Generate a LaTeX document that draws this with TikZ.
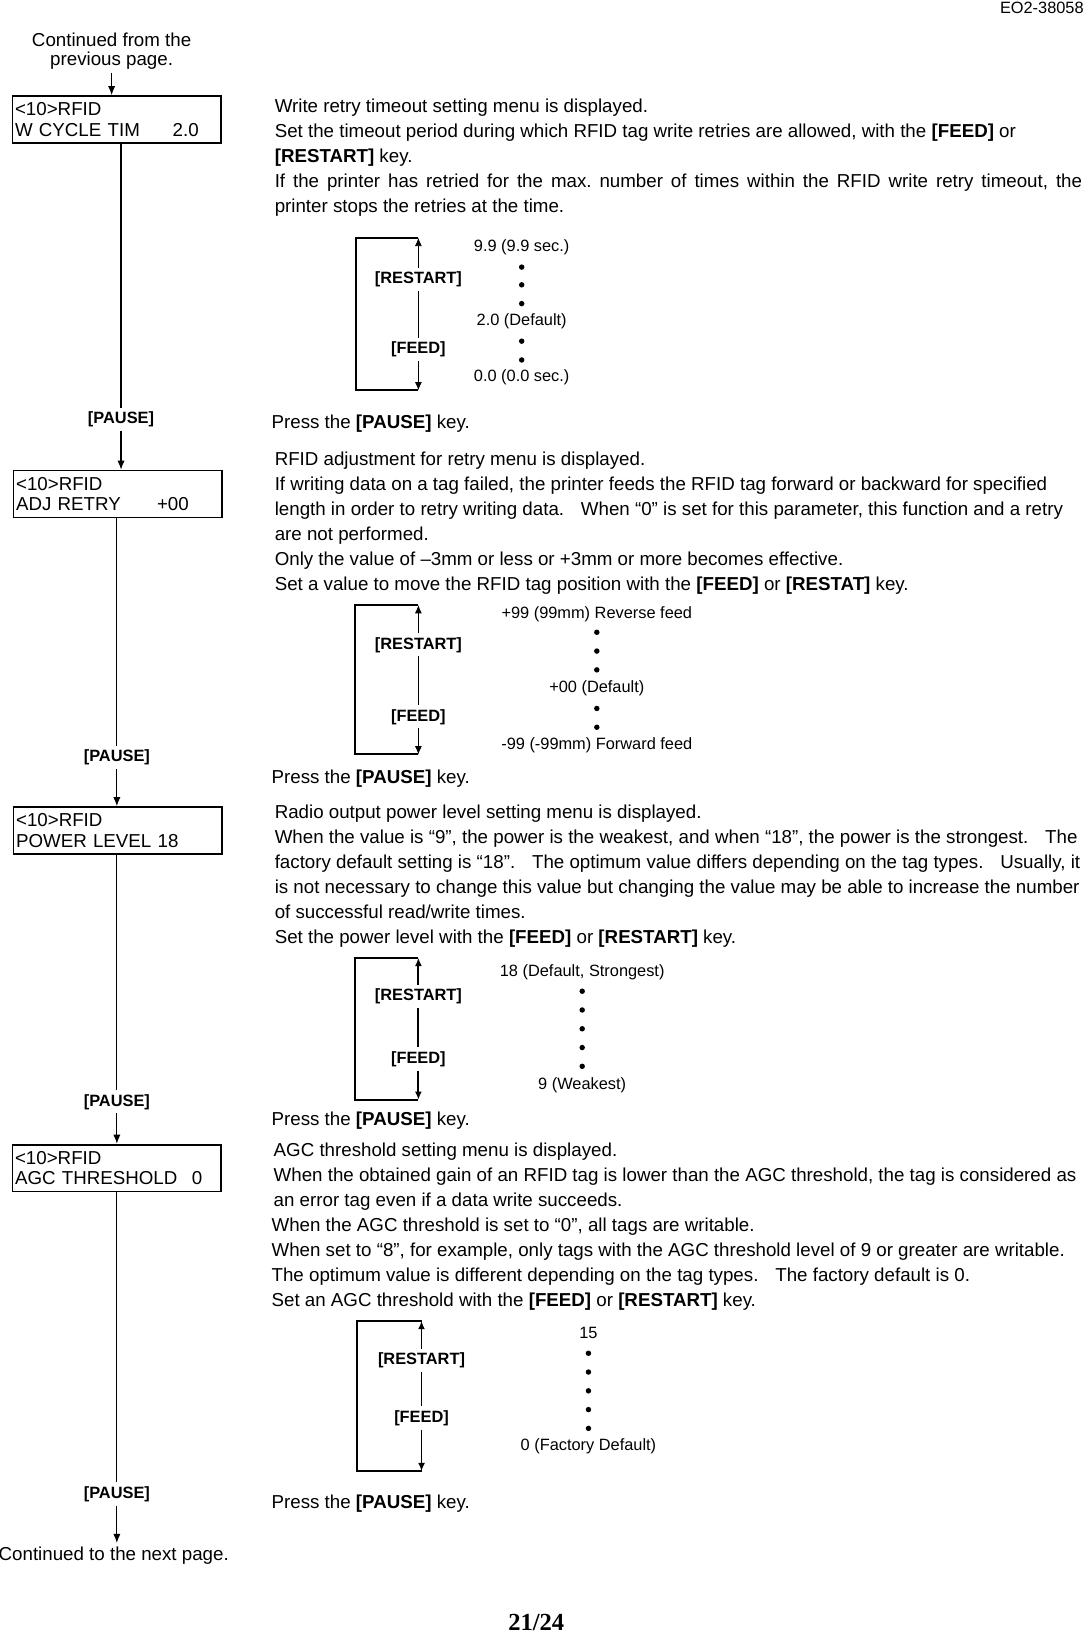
\documentclass[tikz,border=0pt]{standalone}
\usepackage{fontspec}
\setmainfont{Liberation Sans}
\newfontfamily\pagenofont{Liberation Serif}
\usetikzlibrary{arrows.meta}
\frenchspacing
\newcommand{\gap}{\hspace{0.9em}}
\newcommand{\padright}[1]{\rule{#1}{0pt}}
\tikzset{
  txt/.style={anchor=base west,inner sep=0pt,font=\fontsize{10.3}{12}\selectfont},
  val/.style={inner sep=0pt,font=\fontsize{9}{10}\selectfont},
  keylab/.style={inner sep=2pt,font=\fontsize{9}{10}\selectfont\bfseries},
  menubox/.style={draw,line width=1pt,minimum width=114.8pt,minimum height=25.8pt,
    text width=112pt,align=left,inner xsep=1.2pt,inner ysep=0pt,
    font=\fontsize{10.3}{11.5}\selectfont},
  flow/.style={-{Latex[length=5pt,width=4pt]},line width=0.6pt},
  keyarrow/.style={-{Latex[length=4.5pt,width=3.8pt]}},
  bracket/.style={line width=1.1pt}
}

\begin{document}
\begin{tikzpicture}[x=0.5738pt,y=-0.5738pt]
    \useasboundingbox (0,0) rectangle (1040,1568);

    % page head and foot
    \node[val,anchor=east] (docno) at (1039,8) {EO2-38058};
    \node[inner sep=0pt,font=\pagenofont\bfseries\fontsize{13.5}{14}\selectfont] (pageno) at (514,1555) {21/24};

    % left column: menu flow
    \node[inner sep=2pt,align=center,font=\fontsize{10.3}{10.5}\selectfont] (prev) at (107,49) {Continued from the\\previous page.};
    \node[menubox] (m1) at (112,114.5) {<10>RFID\\W CYCLE TIM\hfill 2.0\padright{11pt}};
    \node[keylab] (p1) at (116,402) {[PAUSE]};
    \node[menubox] (m2) at (113,473.5) {<10>RFID\\ADJ RETRY\hfill +00\padright{17pt}};
    \node[keylab] (p2) at (112,726) {[PAUSE]};
    \node[menubox] (m3) at (113,796) {<10>RFID\\POWER LEVEL 18};
    \node[keylab] (p3) at (112,1056) {[PAUSE]};
    \node[menubox] (m4) at (112,1119.5) {<10>RFID\\AGC THRESHOLD\hfill 0\padright{9pt}};
    \node[keylab] (p4) at (112,1432) {[PAUSE]};
    \node[inner sep=2pt,font=\fontsize{10.3}{12}\selectfont] (next) at (109,1491) {Continued to the next page.};

    \draw[flow] (prev.south) -- (prev.south |- m1.north);
    \draw[line width=0.6pt] (p1 |- m1.south) -- (p1.north);
    \draw[flow] (p1.south) -- (p1 |- m2.north);
    \draw[line width=0.6pt] (p2 |- m2.south) -- (p2.north);
    \draw[flow] (p2.south) -- (p2 |- m3.north);
    \draw[line width=0.6pt] (p3 |- m3.south) -- (p3.north);
    \draw[flow] (p3.south) -- (p3 |- m4.north);
    \draw[line width=0.6pt] (p4 |- m4.south) -- (p4.north);
    \draw[flow] (p4.south) -- (p4 |- next.north);

    % W CYCLE TIM
    \node[txt] (a1) at (263,108) {Write retry timeout setting menu is displayed.};
    \node[txt] (a2) at (263,132) {Set the timeout period during which RFID tag write retries are allowed, with the \textbf{[FEED]} or};
    \node[txt] (a3) at (263,156) {\textbf{[RESTART]} key.};
    \node[txt] (a4) at (263,180) {\makebox[444pt][s]{If the printer has retried for the max. number of times within the RFID write retry timeout, the}};
    \node[txt] (a5) at (263,204) {printer stops the retries at the time.};

    \coordinate (at) at (401,228);
    \coordinate (ab) at (401,374);
    \draw[bracket] (at) -- (341,228) -- (341,374) -- (ab);
    \node[keylab] (ar) at (401,268) {[RESTART]};
    \node[keylab] (af) at (401,335) {[FEED]};
    \draw[keyarrow] (ar) -- (at);
    \draw (ar) -- (af);
    \draw[keyarrow] (af) -- (ab);
    \node[val] (av1) at (500,237) {9.9 (9.9 sec.)};
    \node[val] (av2) at (500,308) {2.0 (Default)};
    \node[val] (av3) at (500,362) {0.0 (0.0 sec.)};
    \foreach \y in {256,273,291,327,345}
        \fill (500,\y) circle (1.5pt);

    \node[txt] (ap) at (260,411) {Press the \textbf{[PAUSE]} key.};

    % ADJ RETRY
    \node[txt] (b1) at (263,446) {RFID adjustment for retry menu is displayed.};
    \node[txt] (b2) at (263,470) {If writing data on a tag failed, the printer feeds the RFID tag forward or backward for specified};
    \node[txt] (b3) at (263,494) {length in order to retry writing data.\gap When “0” is set for this parameter, this function and a retry};
    \node[txt] (b4) at (263,518) {are not performed.};
    \node[txt] (b5) at (263,542) {Only the value of –3mm or less or +3mm or more becomes effective.};
    \node[txt] (b6) at (263,566) {Set a value to move the RFID tag position with the \textbf{[FEED]} or \textbf{[RESTAT]} key.};

    \coordinate (bt) at (401,580);
    \coordinate (bb) at (401,723);
    \draw[bracket] (bt) -- (340,580) -- (340,723) -- (bb);
    \node[keylab] (br) at (401,618) {[RESTART]};
    \node[keylab] (bf) at (401,687) {[FEED]};
    \draw[keyarrow] (br) -- (bt);
    \draw (br) -- (bf);
    \draw[keyarrow] (bf) -- (bb);
    \node[val] (bv1) at (572,589) {+99 (99mm) Reverse feed};
    \node[val] (bv2) at (572,660) {+00 (Default)};
    \node[val] (bv3) at (572,714) {-99 (-99mm) Forward feed};
    \foreach \y in {606,624,642,679,697}
        \fill (572,\y) circle (1.5pt);

    \node[txt] (bp) at (260,751) {Press the \textbf{[PAUSE]} key.};

    % POWER LEVEL
    \node[txt] (c1) at (263,784) {Radio output power level setting menu is displayed.};
    \node[txt] (c2) at (263,808) {When the value is “9”, the power is the weakest, and when “18”, the power is the strongest.\gap The};
    \node[txt] (c3) at (263,832) {factory default setting is “18”.\gap The optimum value differs depending on the tag types.\gap Usually, it};
    \node[txt] (c4) at (263,856) {is not necessary to change this value but changing the value may be able to increase the number};
    \node[txt] (c5) at (263,880) {of successful read/write times.};
    \node[txt] (c6) at (263,904) {Set the power level with the \textbf{[FEED]} or \textbf{[RESTART]} key.};

    \coordinate (ct) at (401,918);
    \coordinate (cb) at (401,1054);
    \draw[bracket] (ct) -- (340,918) -- (340,1054) -- (cb);
    \node[keylab] (cr) at (401,955) {[RESTART]};
    \node[keylab] (cf) at (401,1015) {[FEED]};
    \draw[keyarrow,line width=1pt] (cr) -- (ct);
    \draw[line width=1pt] (cr) -- (cf);
    \draw[keyarrow,line width=1pt] (cf) -- (cb);
    \node[val] (cv1) at (558,932) {18 (Default, Strongest)};
    \node[val] (cv2) at (558,1040) {9 (Weakest)};
    \foreach \y in {950,968,986,1004,1022}
        \fill (558,\y) circle (1.5pt);

    \node[txt] (cp) at (260,1079) {Press the \textbf{[PAUSE]} key.};

    % AGC THRESHOLD
    \node[txt] (d1) at (262,1108) {AGC threshold setting menu is displayed.};
    \node[txt] (d2) at (262,1132) {When the obtained gain of an RFID tag is lower than the AGC threshold, the tag is considered as};
    \node[txt] (d3) at (262,1156) {an error tag even if a data write succeeds.};
    \node[txt] (d4) at (260,1180) {When the AGC threshold is set to “0”, all tags are writable.};
    \node[txt] (d5) at (260,1204) {When set to “8”, for example, only tags with the AGC threshold level of 9 or greater are writable.};
    \node[txt] (d6) at (260,1228) {The optimum value is different depending on the tag types.\gap The factory default is 0.};
    \node[txt] (d7) at (260,1252) {Set an AGC threshold with the \textbf{[FEED]} or \textbf{[RESTART]} key.};

    \coordinate (dt) at (404,1266);
    \coordinate (db) at (404,1410);
    \draw[bracket] (dt) -- (342,1266) -- (342,1410) -- (db);
    \node[keylab] (dr) at (404,1304) {[RESTART]};
    \node[keylab] (df) at (404,1359) {[FEED]};
    \draw[keyarrow,line width=0.9pt] (dr) -- (dt);
    \draw[line width=0.9pt] (dr) -- (df);
    \draw[keyarrow,line width=0.9pt] (df) -- (db);
    \node[val] (dv1) at (564,1278) {15};
    \node[val] (dv2) at (564,1386) {0 (Factory Default)};
    \foreach \y in {1297,1315,1333,1351,1369}
        \fill (564,\y) circle (1.5pt);

    \node[txt] (dp) at (260,1446) {Press the \textbf{[PAUSE]} key.};
\end{tikzpicture}
\end{document}
